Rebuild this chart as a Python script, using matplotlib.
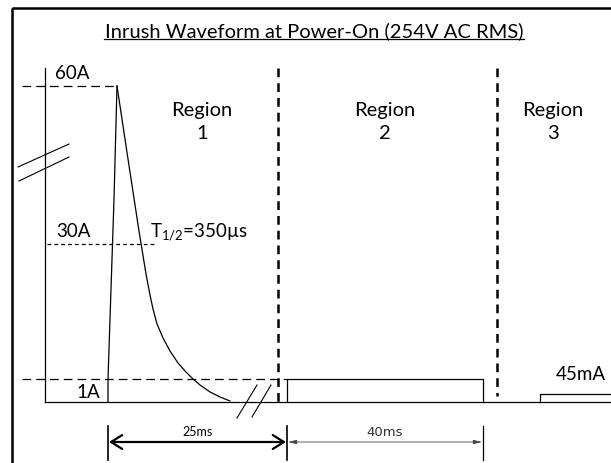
import matplotlib
matplotlib.use("Agg")
import matplotlib.pyplot as plt
from matplotlib.patches import Rectangle

# ---- data (schematic diagram units: x to the right, y downward) ----
title = "Inrush Waveform at Power-On (254V AC RMS)"
level_labels = ["60A", "30A", "1A"]
level_y = [87, 245, 380]
baseline_y = 403
region_names = ["Region\n1", "Region\n2", "Region\n3"]
region_label_x = [202, 385, 553]
region_bounds_x = [278, 497]
pulse_rise_x = [108, 108, 114, 117]
pulse_rise_y = [403, 380, 200, 87]
decay_x = [117, 128, 139, 146, 150, 153, 157, 163, 170, 178, 186, 192, 200, 210, 220, 230]
decay_y = [87, 160, 232, 275, 296, 310, 325, 339, 352, 364, 373, 379, 386, 393, 398, 402]
region2_box = [287, 483]        # x start, x end (height = 1A level)
region3_box = [540, 620]        # x start, x end (height = 45mA level)
region3_level_y = 395
durations = ["25ms", "40ms"]
duration_x = [108, 287, 483]
half_time_label = r"T$_{\mathregular{1/2}}$=350µs"
idle_label = "45mA"

fig = plt.figure(figsize=(6.11, 4.64), dpi=100)
ax = fig.add_axes([0, 0, 1, 1])
ax.set_xlim(0, 611)
ax.set_ylim(464, 0)
ax.axis("off")

FONT = "Lato"
K = "black"

# outer frame
ax.add_patch(Rectangle((12, 9), 610, 470, fill=False, lw=1.8, ec=K))

# title
ax.text(314, 37, title, ha="center", va="baseline", fontsize=14.5, family=FONT)
ax.plot([104, 524], [39.5, 39.5], color=K, lw=0.9)

# axes of the schematic
ax.plot([45, 45], [69, baseline_y], color=K, lw=0.9)
ax.plot([45, 620], [baseline_y, baseline_y], color=K, lw=0.9)

# axis break marks (vertical axis)
ax.plot([18, 69], [168, 145], color=K, lw=0.8)
ax.plot([19, 69], [182, 158], color=K, lw=0.8)
# axis break marks (time axis)
ax.plot([237, 257], [419, 386], color=K, lw=0.8)
ax.plot([252, 271], [418, 386], color=K, lw=0.8)

# level lines
ax.plot([22, 117], [level_y[0]] * 2, color=K, lw=0.9, dashes=(7, 4))
ax.plot([47, 155], [level_y[1]] * 2, color=K, lw=0.9, dashes=(3, 2.5))
ax.plot([22, region2_box[0]], [level_y[2]] * 2, color=K, lw=0.9, dashes=(7, 4))

# level labels
LS = 13.5
ax.text(55, 79, level_labels[0], ha="left", va="baseline", fontsize=LS, family=FONT)
ax.text(56, 237, level_labels[1], ha="left", va="baseline", fontsize=LS, family=FONT)
ax.text(100, 398, level_labels[2], ha="right", va="baseline", fontsize=LS, family=FONT)
ax.text(150, 237, half_time_label, ha="left", va="baseline", fontsize=LS, family=FONT)
ax.text(581, 380, idle_label, ha="center", va="baseline", fontsize=LS, family=FONT)

# pulse
ax.plot(pulse_rise_x, pulse_rise_y, color=K, lw=0.9)
ax.plot(decay_x, decay_y, color=K, lw=0.9)

# region 2 & 3 steady currents
ax.plot([region2_box[0], region2_box[0], region2_box[1], region2_box[1]],
        [baseline_y, level_y[2], level_y[2], baseline_y], color=K, lw=0.9)
ax.plot([region3_box[0], region3_box[0], region3_box[1]],
        [baseline_y, region3_level_y, region3_level_y], color=K, lw=0.9)

# region boundaries
ax.plot([region_bounds_x[0]] * 2, [69, baseline_y], color=K, lw=1.8, dashes=(3.5, 2.4))
ax.plot([region_bounds_x[1]] * 2, [69, 397], color=K, lw=1.8, dashes=(3.5, 2.4))

# region labels
for x, name in zip(region_label_x, region_names):
    top, bottom = name.split("\n")
    ax.text(x, 116, top, ha="center", va="baseline", fontsize=14.5, family=FONT)
    ax.text(x, 139, bottom, ha="center", va="baseline", fontsize=14.5, family=FONT)

# duration dimension lines
for x in duration_x:
    ax.plot([x, x], [427, 461], color=K, lw=1.2 if x != duration_x[2] else 0.9)
ax.annotate("", xy=(duration_x[0] + 1, 443), xytext=(duration_x[1] - 1, 443),
            arrowprops=dict(arrowstyle="<->,head_length=0.8,head_width=0.5",
                            color=K, lw=1.6, shrinkA=0, shrinkB=0))
ax.annotate("", xy=(duration_x[1] + 1, 443), xytext=(duration_x[2] - 1, 443),
            arrowprops=dict(arrowstyle="<|-|>,head_length=0.5,head_width=0.12",
                            color="#444444", lw=0.6, shrinkA=0, shrinkB=0))
ax.text((duration_x[0] + duration_x[1]) / 2, 436, durations[0], ha="center",
        va="baseline", fontsize=9, family=FONT)
ax.text((duration_x[1] + duration_x[2]) / 2, 436, durations[1], ha="center",
        va="baseline", fontsize=9.5, family="DejaVu Sans", color="#333333")

fig.savefig("out.png", dpi=100)
